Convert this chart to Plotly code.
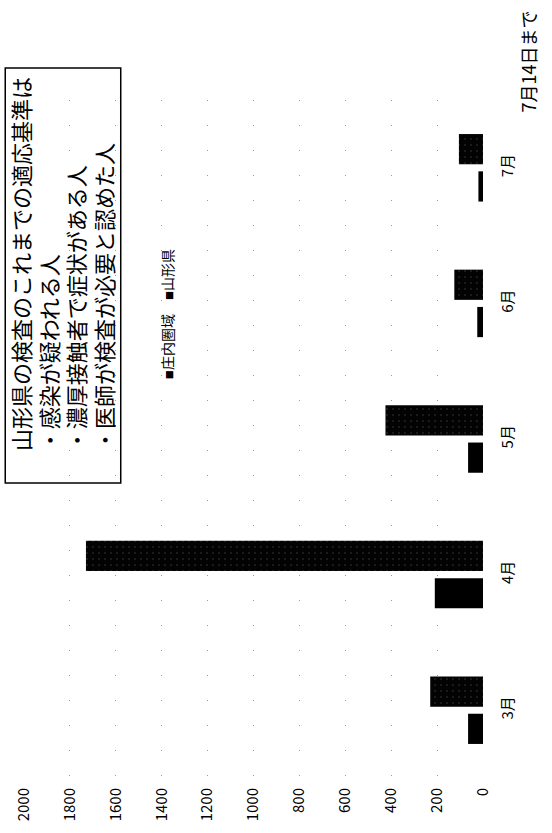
import plotly.graph_objects as go

# Monthly PCR test counts up to 14 July
months = ["3月", "4月", "5月", "6月", "7月"]
shonai = [65, 210, 65, 25, 20]        # 庄内圏域
yamagata = [230, 1730, 425, 125, 105]  # 山形県
value_ticks = [0, 200, 400, 600, 800, 1000, 1200, 1400, 1600, 1800, 2000]
criteria = [
    "山形県の検査のこれまでの適応基準は",
    "・感染が疑われる人",
    "・濃厚接触者で症状がある人",
    "・医師が検査が必要と認めた人",
]

W, H = 552, 833
ML, MR, MT, MB = 18, 69, 100, 55
FONT = "Noto Sans CJK JP"


def px_x(x):
    return (x - ML) / (W - ML - MR)


def px_y(y):
    return (H - MB - y) / (H - MT - MB)


fig = go.Figure()
fig.add_trace(go.Bar(
    y=months, x=shonai, orientation="h", name="庄内圏域",
    marker=dict(color="#000000", line=dict(width=0)),
))
fig.add_trace(go.Bar(
    y=months, x=yamagata, orientation="h", name="山形県",
    marker=dict(color="#050505", line=dict(width=0),
                pattern=dict(shape=".", fgcolor="#7a7a7a", bgcolor="#030303",
                             size=6, solidity=0.05)),
))

fig.update_layout(
    width=W, height=H,
    margin=dict(l=ML, r=MR, t=MT, b=MB),
    paper_bgcolor="white", plot_bgcolor="white",
    barmode="group", bargap=0.45, bargroupgap=0.19,
    showlegend=False,
    font=dict(family=FONT, color="#000000", size=15),
)

fig.update_xaxes(
    range=[2000, 0], tickvals=value_ticks, ticktext=[str(v) for v in value_ticks],
    tickangle=-90, showline=False, zeroline=False,
    showgrid=True, gridcolor="#9a9a9a", gridwidth=1, griddash="1px,24px",
    tickfont=dict(family=FONT, size=15), ticks="", ticklabelstandoff=6,
)
fig.update_yaxes(
    side="right", tickangle=-90, showgrid=False, zeroline=False, showline=False,
    range=[-0.5, 4.5], tickfont=dict(family=FONT, size=15), ticks="",
    ticklabelstandoff=14,
)

# Box with the testing criteria
fig.add_shape(
    type="rect", xref="paper", yref="paper",
    x0=px_x(-1), x1=px_x(116), y0=px_y(483), y1=px_y(68),
    line=dict(color="#000000", width=1.5), fillcolor="rgba(0,0,0,0)",
)
for line_text, cx in zip(criteria, [14, 42, 70, 98]):
    fig.add_annotation(
        xref="paper", yref="paper", x=px_x(cx), y=px_y(453),
        xanchor="center", yanchor="bottom", showarrow=False, textangle=-90,
        text=line_text, font=dict(family=FONT, size=22, color="#000000"),
    )

# Series key
fig.add_annotation(
    xref="paper", yref="paper", x=px_x(163), y=px_y(314),
    xanchor="center", yanchor="middle", showarrow=False, textangle=-90,
    text=("<span style='font-size:9px'>■</span>庄内圏域　"
          "<span style='font-size:9px'>■</span>山形県"),
    font=dict(family=FONT, size=14, color="#000000"),
)

# Date note
fig.add_annotation(
    xref="paper", yref="paper", x=px_x(529), y=px_y(61),
    xanchor="center", yanchor="middle", showarrow=False, textangle=-90,
    text="7月14日まで",
    font=dict(family=FONT, size=18, color="#000000"),
)

fig.write_html("out.html")
